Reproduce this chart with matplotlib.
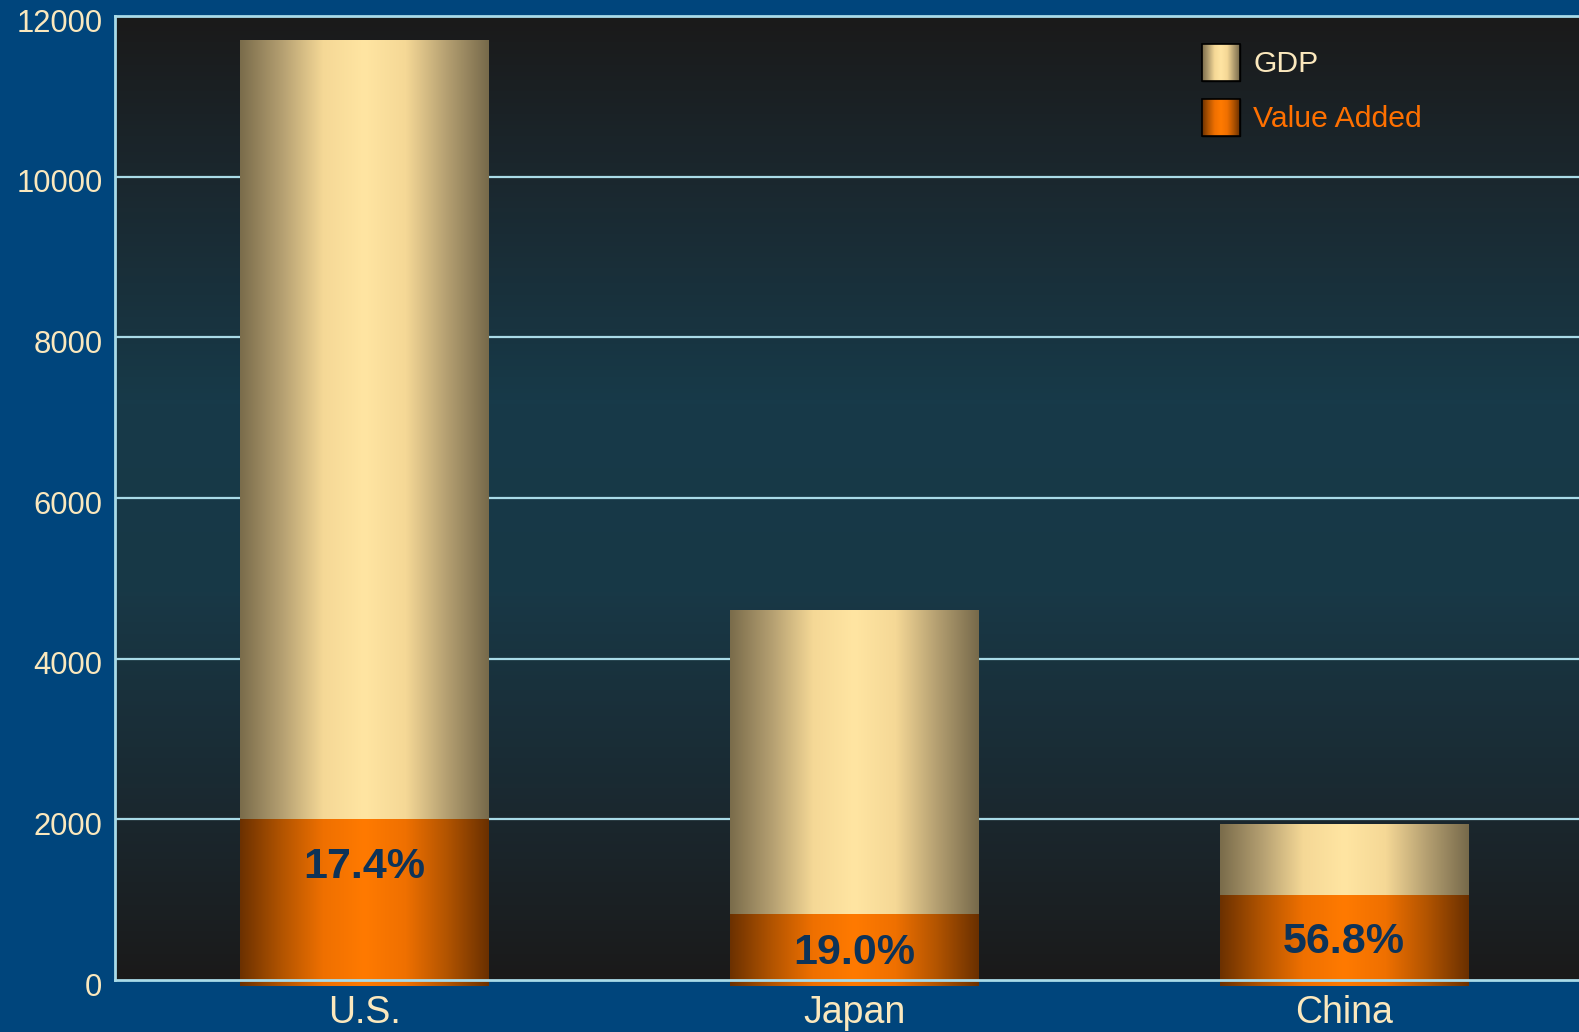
import numpy as np
import matplotlib.pyplot as plt
import matplotlib.transforms as mtransforms
from matplotlib.colors import LinearSegmentedColormap
from matplotlib.patches import Rectangle

# --- Data ---
countries = ['U.S.', 'Japan', 'China']
gdp = [11700, 4600, 1940]
value_added = [2000, 820, 1060]
share_labels = ['17.4%', '19.0%', '56.8%']

# --- Colours ---
fig_bg = '#00457c'
cream = '#fbe8bd'
grid_col = '#a9dbe8'
navy = '#0d3358'
gdp_cmap = LinearSegmentedColormap.from_list(
    'gdp', ['#7a6c4b', '#b49f71', '#f5d896', '#ffe5a2', '#f5d896', '#b49f71', '#776a4b'])
va_cmap = LinearSegmentedColormap.from_list(
    'va', ['#6c3100', '#b25400', '#ef7000', '#ff7a00', '#ef7000', '#b25400', '#6a3000'])
bg_cmap = LinearSegmentedColormap.from_list(
    'bg', ['#1a1a1a', '#1a2a32', '#173a49', '#183846', '#1a2a32', '#1a1a1a'])

plt.rcParams['font.family'] = ['Liberation Sans', 'DejaVu Sans']

fig = plt.figure(figsize=(15.79, 10.32), dpi=100, facecolor=fig_bg)
ax = fig.add_axes([115 / 1579, 1 - 980 / 1032, 1 - 115 / 1579, 964 / 1032])

ymax = 12000
ax.set_xlim(-0.51, 2.48)
ax.set_ylim(0, ymax)

# axes background gradient (vertical)
grad = np.linspace(0, 1, 256).reshape(-1, 1)
ax.imshow(grad, aspect='auto', cmap=bg_cmap, extent=(-0.51, 2.48, 0, ymax),
          origin='upper', zorder=0)

# gridlines
for v in range(2000, ymax, 2000):
    ax.axhline(v, color=grid_col, lw=1.6, zorder=1)

# bars with horizontal gradient
width = 0.508
hgrad = np.linspace(0, 1, 256).reshape(1, -1)
x = np.arange(len(countries))
bar_floor = -70
for i in range(len(countries)):
    left, right = x[i] - width / 2, x[i] + width / 2
    ax.imshow(hgrad, aspect='auto', cmap=gdp_cmap,
              extent=(left, right, bar_floor, gdp[i]), zorder=2, clip_on=False)
    ax.imshow(hgrad, aspect='auto', cmap=va_cmap,
              extent=(left, right, bar_floor, value_added[i]), zorder=3, clip_on=False)
    label_y = max(value_added[i] - 590, value_added[i] * 0.41)
    ax.text(x[i], label_y, share_labels[i], ha='center', va='center',
            fontsize=31, fontweight='bold', color=navy, zorder=5)

# axes styling
for side in ['left', 'top', 'bottom']:
    ax.spines[side].set_color(grid_col)
    ax.spines[side].set_linewidth(2)
    ax.spines[side].set_zorder(6)
ax.spines['right'].set_visible(False)

ax.set_yticks(range(0, ymax + 1, 2000))
ax.set_xticks(x)
ax.set_xticklabels(countries)
ax.tick_params(axis='y', length=0, pad=9, labelsize=22.3, labelcolor=cream)
ax.tick_params(axis='x', length=0, pad=11, labelsize=27, labelcolor=cream)

# y labels sit a little below their gridlines
shift = mtransforms.ScaledTranslation(0, -4 / 100, fig.dpi_scale_trans)
for lab in ax.get_yticklabels():
    lab.set_transform(lab.get_transform() + shift)

# legend
handles = []
for cm in [gdp_cmap, va_cmap]:
    handles.append(Rectangle((0, 0), 1, 1, facecolor=cm(0.5), edgecolor='black'))
leg = ax.legend(handles, ['GDP', 'Value Added'], loc='upper left',
                bbox_to_anchor=(0.724, 0.999), frameon=False, fontsize=21.7,
                handlelength=1.25, handleheight=1.5, handletextpad=0.45,
                labelspacing=0.6)
leg.get_texts()[0].set_color(cream)
leg.get_texts()[1].set_color('#ff7000')
fig.canvas.draw()

# gradient swatches over the legend handles
for patch, cm in zip(leg.get_patches(), [gdp_cmap, va_cmap]):
    bb = patch.get_window_extent().transformed(ax.transData.inverted())
    ax.imshow(hgrad, aspect='auto', cmap=cm,
              extent=(bb.x0, bb.x1, bb.y0, bb.y1), zorder=7)
    ax.add_patch(Rectangle((bb.x0, bb.y0), bb.width, bb.height,
                           fill=False, edgecolor='black', lw=1.2, zorder=8))
ax.set_xlim(-0.51, 2.48)
ax.set_ylim(0, ymax)

fig.savefig('out.png', dpi=100, facecolor=fig_bg)
